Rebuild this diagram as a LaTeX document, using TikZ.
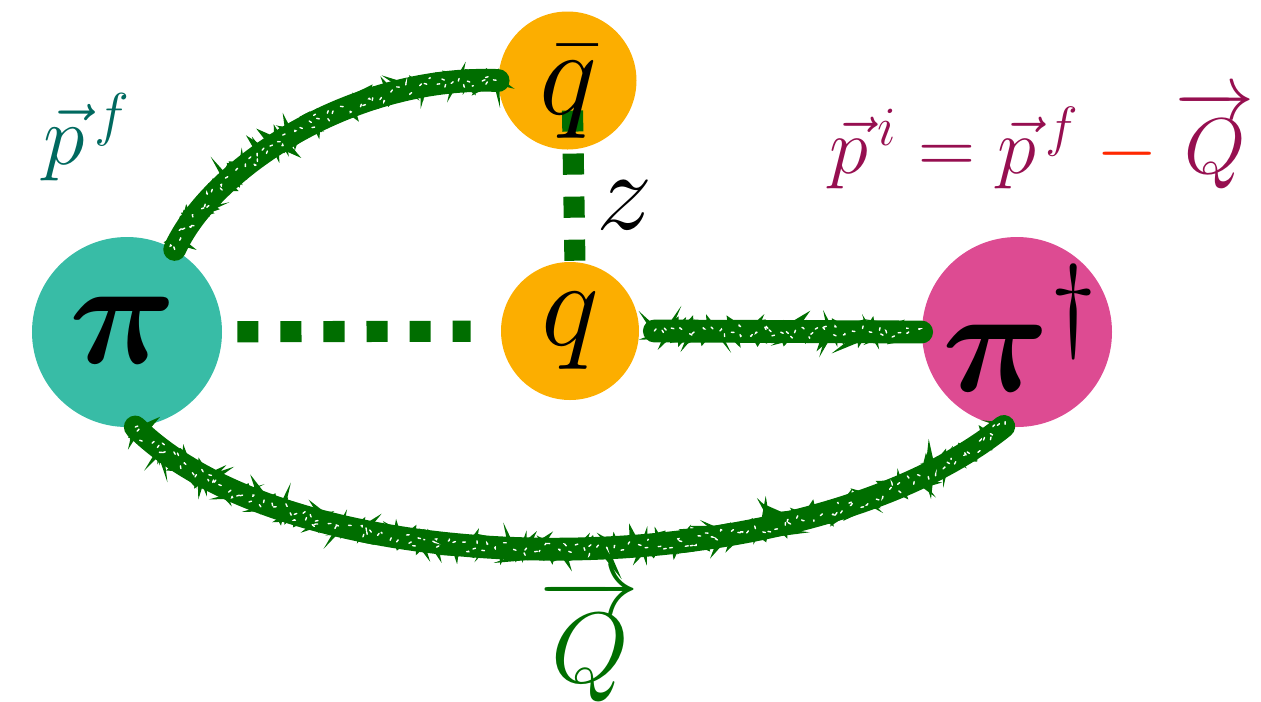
\documentclass[tikz,border=0pt]{standalone}
\usepackage{fix-cm}
\usepackage{amsmath}
\usepackage{tikz}
\usetikzlibrary{calc, decorations.pathmorphing}
\definecolor{mygreen}{RGB}{0,110,0}
\definecolor{myteal}{RGB}{56,188,166}
\definecolor{myorange}{RGB}{252,174,0}
\definecolor{mypink}{RGB}{221,75,146}
\definecolor{tealtxt}{RGB}{0,105,95}
\definecolor{wine}{RGB}{150,15,80}
\definecolor{myred}{RGB}{255,40,0}
\tikzset{
  ball/.style={circle, inner sep=0pt},
  bigball/.style={ball, minimum size=3.8cm},
  smallball/.style={ball, minimum size=2.76cm},
  sqdash/.style={draw=mygreen, line width=12pt, dash pattern=on 12pt off 12.5pt},
  pencil/.style={draw=mygreen, line width=13pt, line cap=round,
    postaction={draw=mygreen, line width=5pt, decorate,
      decoration={random steps, segment length=2.5pt, amplitude=4pt}},
    postaction={draw=mygreen, line width=2.5pt, decorate,
      decoration={random steps, segment length=1.5pt, amplitude=6pt}},
    postaction={draw=white, line width=0.8pt, dash pattern=on 1.5pt off 6pt, decorate,
      decoration={random steps, segment length=2pt, amplitude=4pt}}},
  lbl/.style={inner sep=0pt}
}

\begin{document}
\begin{tikzpicture}
  \pgfmathsetseed{7}
  \useasboundingbox (0,0) rectangle (25.22,-14.02);
  % quark and pion blobs
  \node[bigball, fill=myteal] (pi) at (2.54,-6.64) {};
  \node[smallball, fill=myorange] (qbar) at (11.35,-1.61) {};
  \node[smallball, fill=myorange] (q) at (11.4,-6.62) {};
  \node[bigball, fill=mypink] (pidag) at (20.34,-6.64) {};

  % propagators
  \draw[pencil] (pi.60) .. controls (4.2,-3.4) and (7,-1.5) .. (qbar.180);
  \draw[pencil] ($(q.east)+(0.3,0)$) -- (pidag.west);
  \draw[pencil] (pi.-85) .. controls (6,-11.8) and (16,-11.8) .. (pidag.-98);

  % Wilson line
  \draw[sqdash, shorten <=0.3cm, shorten >=0.6cm] (pi) -- (q);
  \draw[sqdash] ($(qbar.center)+(0.1,-0.6)$) -- ($(q.north)+(0.1,-0.06)$);

  % labels
  \node[lbl, font=\fontsize{85}{85}\selectfont] (pilbl) at (2.46,-6.6) {$\boldsymbol{\pi}$};
  \node[lbl, font=\fontsize{85}{85}\selectfont] (pidaglbl) at (20.4,-6.56) {$\boldsymbol{\pi}^{\dagger}$};
  \node[lbl, font=\fontsize{70}{70}\selectfont] (qbarlbl) at (11.36,-1.85) {$\bar{q}$};
  \node[lbl, font=\fontsize{70}{70}\selectfont] (qlbl) at (11.4,-6.62) {$q$};
  \node[lbl, font=\fontsize{64}{64}\selectfont] (zlbl) at (12.5,-4.1) {$z$};
  \node[lbl, text=tealtxt, font=\fontsize{48}{48}\selectfont] (pf) at (1.74,-2.74) {$\vec{p}^{\,f}$};
  \node[lbl, text=wine, font=\fontsize{45}{45}\selectfont] (rel) at (20.84,-2.8)
    {$\vec{p}^{\,i} = \vec{p}^{\,f} \mathbin{\textcolor{myred}{-}} \overrightarrow{Q}$};
  \node[lbl, text=mygreen, font=\fontsize{57}{57}\selectfont] (Qlbl) at (11.8,-12.8) {$\overrightarrow{Q}$};
\end{tikzpicture}
\end{document}
